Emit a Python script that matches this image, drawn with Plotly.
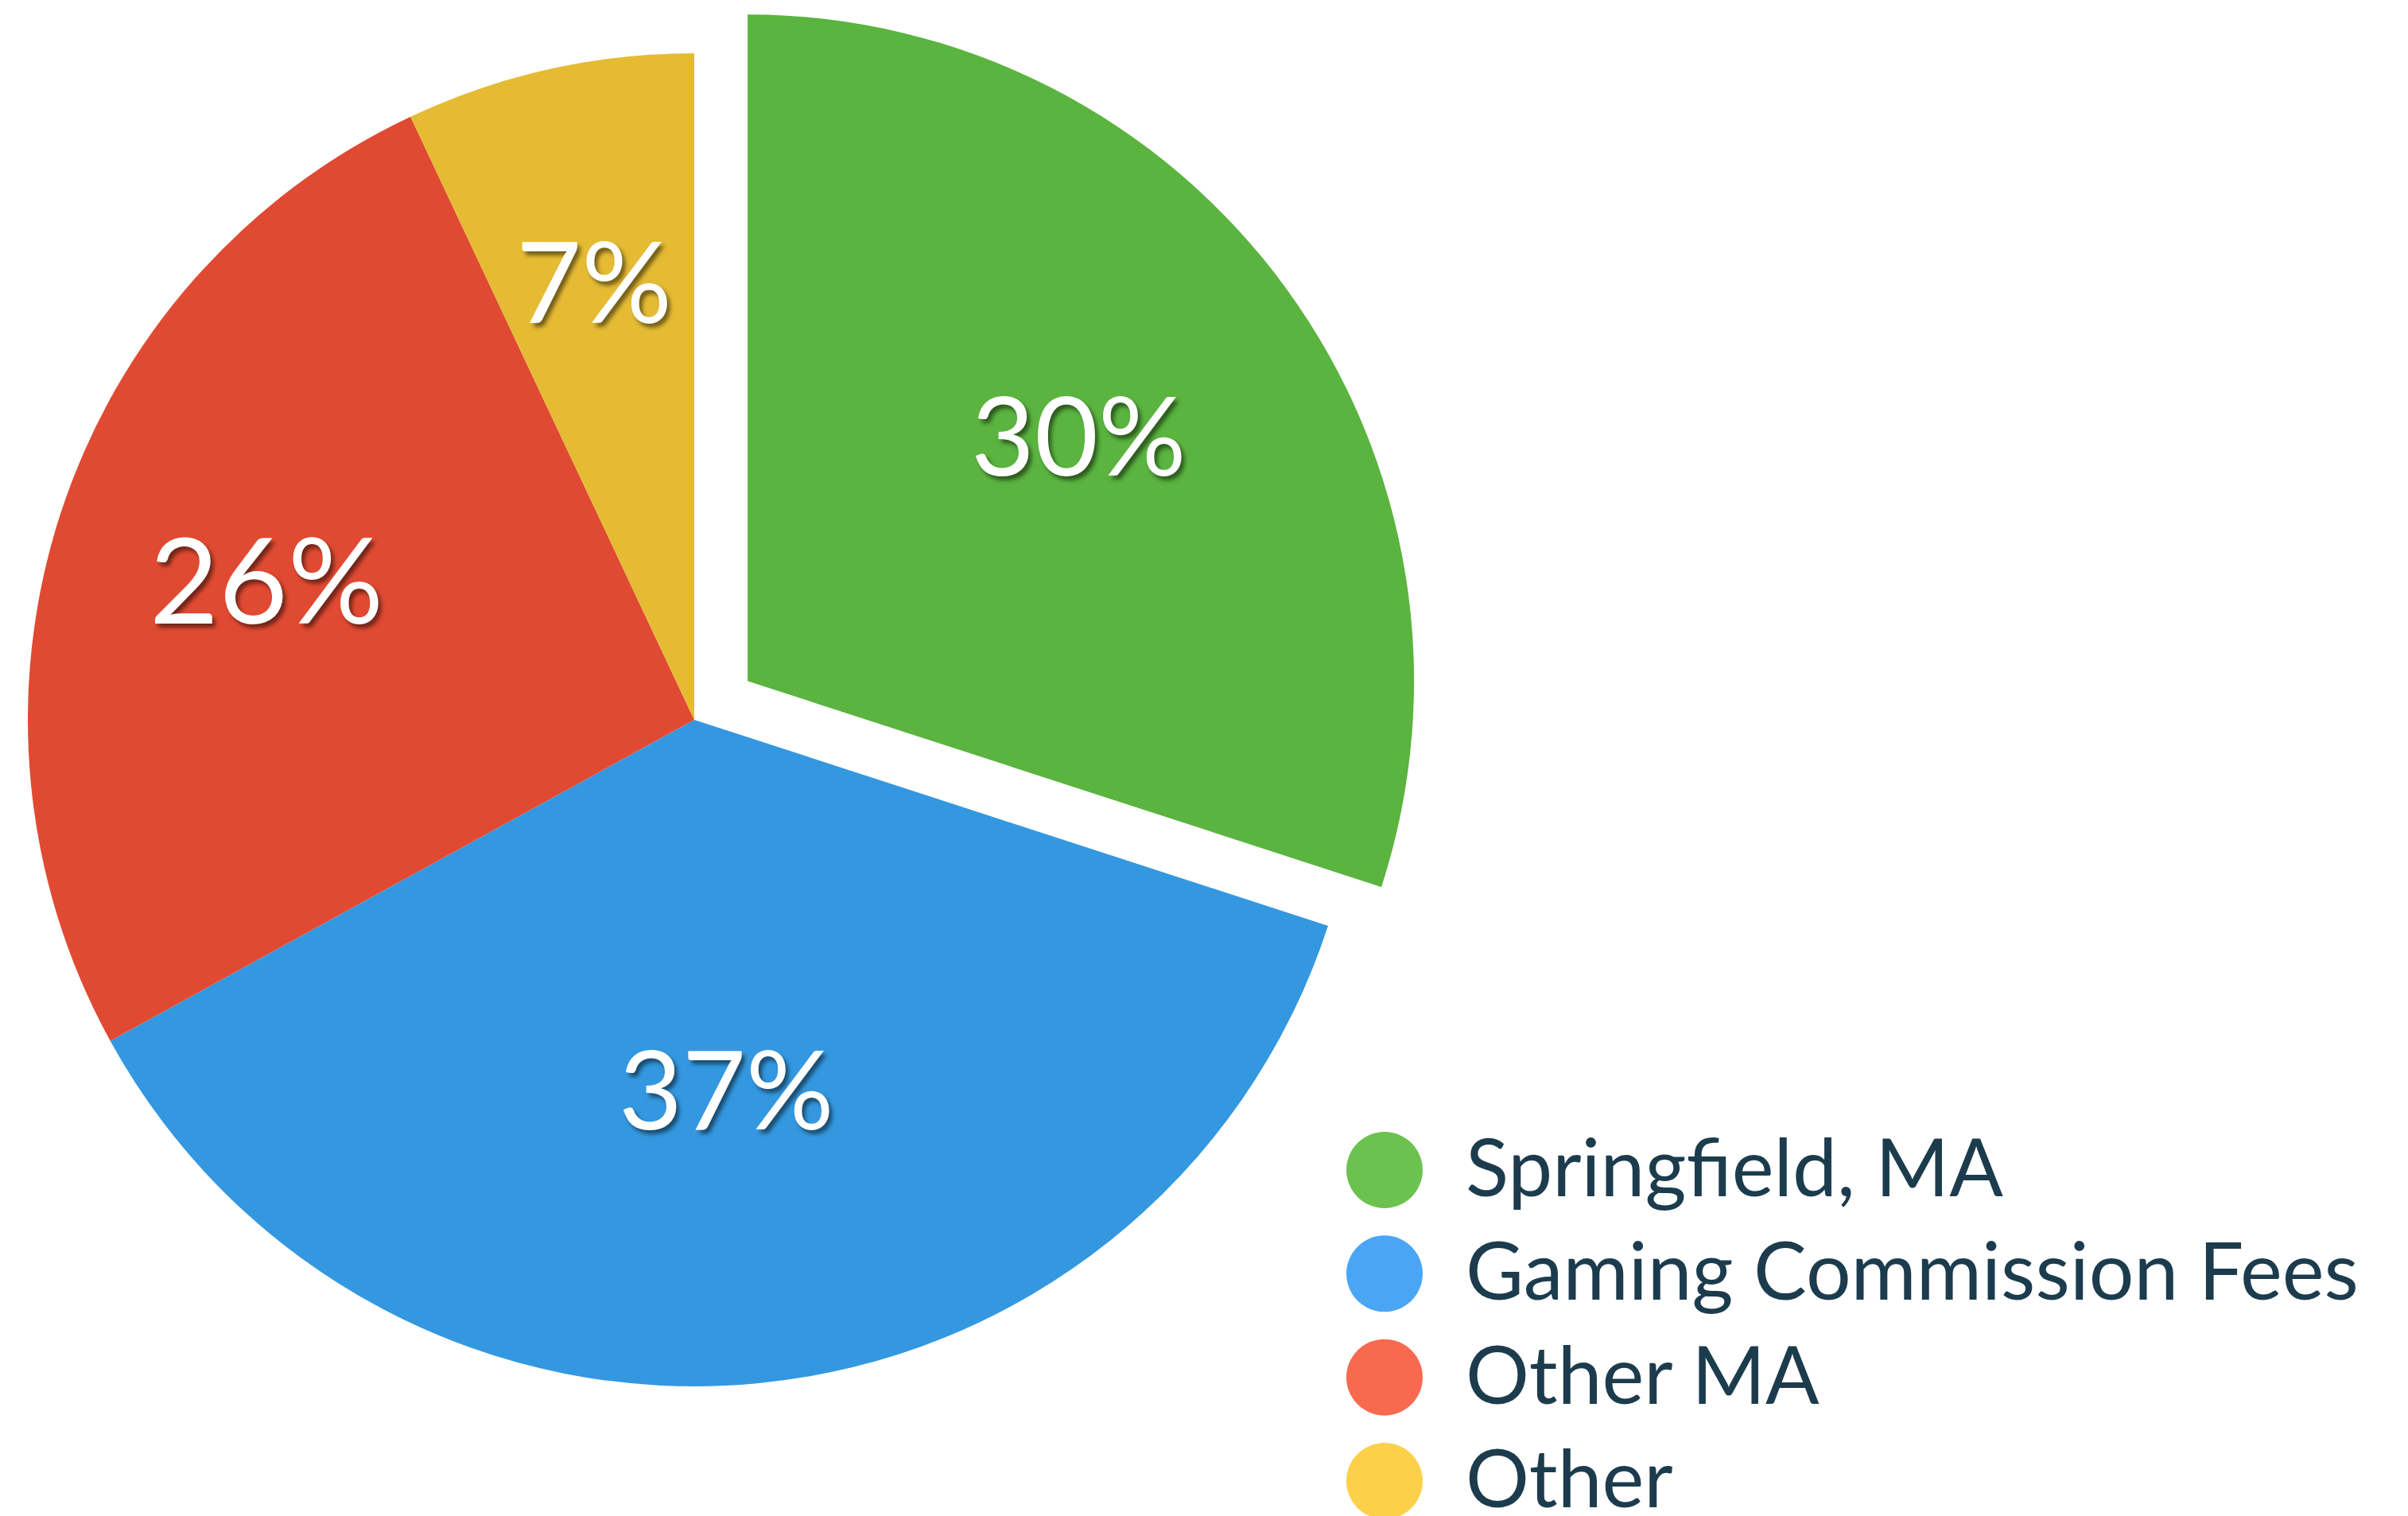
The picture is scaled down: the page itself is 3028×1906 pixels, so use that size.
import math
import plotly.graph_objects as go

# ---- data ----
categories = ["Springfield, MA", "Gaming Commission Fees", "Other MA", "Other"]
values = [30, 37, 26, 7]
colors = ["#5ab43f", "#3498e0", "#e14a32", "#e5bb33"]
legend_colors = ["#6cc24f", "#4aa6f5", "#f76a50", "#fdd04a"]
pulled = [True, False, False, False]

W, H = 3028, 1906
TXT = "#1c3c4e"
FONT = "Lato, 'Open Sans', sans-serif"

# pie geometry (layout)
cx, cy, r = 865, 897, 838
pull_frac = 0.099
label_rad = [0.62, 0.56, 0.67, 0.67]
label_size = [138, 138, 150, 142]
tot = sum(values)


def dom(cx_, cy_):
    return dict(x=[(cx_ - r) / W, (cx_ + r) / W], y=[1 - (cy_ + r) / H, 1 - (cy_ - r) / H])


# slice mid angles (clockwise from 12 o'clock)
mids = []
acc = 0
for v in values:
    mids.append(2 * math.pi * (acc + v / 2) / tot)
    acc += v
dx = pull_frac * r * math.sin(mids[0])
dy = -pull_frac * r * math.cos(mids[0])

colA = ["rgba(0,0,0,0)" if p else c for p, c in zip(pulled, colors)]
colB = [c if p else "rgba(0,0,0,0)" for p, c in zip(pulled, colors)]

fig = go.Figure()
for cols, (ccx, ccy) in ((colA, (cx, cy)), (colB, (cx + dx, cy + dy))):
    fig.add_trace(go.Pie(
        labels=categories, values=values, sort=False, direction="clockwise", rotation=0,
        marker=dict(colors=cols, line=dict(width=0)),
        textinfo="none", domain=dom(ccx, ccy), showlegend=False, hoverinfo="skip",
    ))

# percentage labels placed along each slice's mid angle (annotations sit above pies)
annotations = []
for i, v in enumerate(values):
    ox, oy = (cx + dx, cy + dy) if pulled[i] else (cx, cy)
    annotations.append(dict(
        x=ox + label_rad[i] * r * math.sin(mids[i]),
        y=oy - label_rad[i] * r * math.cos(mids[i]),
        xref="x2", yref="y2", text=f"{round(100 * v / tot)}%", showarrow=False,
        xanchor="center", yanchor="middle", xshift=-4, yshift=6,
        font=dict(family=FONT, size=label_size[i], color="white",
                  shadow="4px 5px 5px rgba(0,0,0,0.5)"),
    ))

# custom legend (large circles + labels)
idx = list(range(len(categories)))
fig.add_trace(go.Scatter(
    x=[0] * len(categories), y=idx, mode="markers",
    marker=dict(size=96, color=legend_colors, line=dict(width=0)),
    showlegend=False, hoverinfo="skip", xaxis="x", yaxis="y3", cliponaxis=False,
))
fig.add_trace(go.Scatter(
    x=[102] * len(categories), y=idx, mode="text", text=categories,
    textposition="middle right",
    textfont=dict(family=FONT, size=100, color=TXT),
    showlegend=False, hoverinfo="skip", xaxis="x", yaxis="y", cliponaxis=False,
))

x0 = 1733
fig.update_layout(
    width=W, height=H,
    margin=dict(l=0, r=0, t=0, b=0),
    paper_bgcolor="white", plot_bgcolor="rgba(0,0,0,0)",
    xaxis=dict(domain=[x0 / W, 1], range=[0, W - x0], visible=False, fixedrange=True),
    yaxis=dict(domain=[1 - 1862 / H, 1 - 1471 / H], range=[3, 0], visible=False, fixedrange=True),
    yaxis3=dict(domain=[1 - 1854 / H, 1 - 1463 / H], range=[3, 0], visible=False,
                fixedrange=True, anchor="x"),
    xaxis2=dict(domain=[0, 1], range=[0, W], visible=False, fixedrange=True, anchor="y2"),
    yaxis2=dict(domain=[0, 1], range=[H, 0], visible=False, fixedrange=True, anchor="x2"),
    annotations=annotations,
)

fig.write_html("out.html")
